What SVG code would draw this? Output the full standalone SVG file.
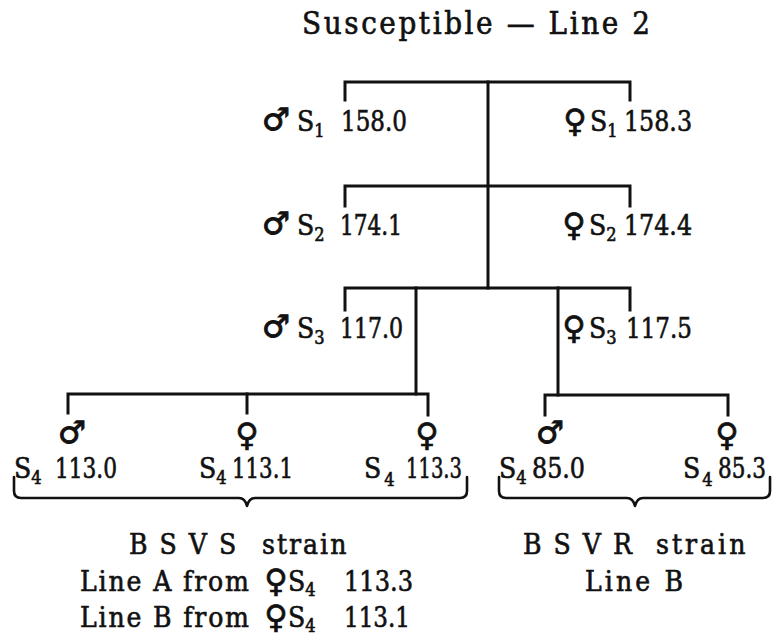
<svg xmlns="http://www.w3.org/2000/svg" width="773" height="642" viewBox="0 0 773 642">
  <style>
    .lb { font-family: "DejaVu Serif Condensed", "DejaVu Serif", "Liberation Serif", serif; font-stretch: condensed; font-size: 28px; fill: #111; stroke: #111; stroke-width: 0.6; }
    .ttl { font-family: "DejaVu Serif Condensed", "DejaVu Serif", "Liberation Serif", serif; font-stretch: condensed; font-size: 31px; fill: #111; stroke: #111; stroke-width: 0.6; }
    .sub { font-size: 18px; }
    .wide { letter-spacing: 12px; }
    .m { font-family: "DejaVu Sans", "Liberation Sans", sans-serif; font-size: 31px; fill: #111; stroke: #111; stroke-width: 1; }
    .f { font-family: "DejaVu Sans", "Liberation Sans", sans-serif; font-size: 32px; fill: #111; stroke: #111; stroke-width: 0.7; text-anchor: middle; }
    .ln { stroke: #111; stroke-width: 3; fill: none; stroke-linecap: square; stroke-linejoin: miter; }
    .br { stroke: #111; stroke-width: 2.6; fill: none; stroke-linecap: round; stroke-linejoin: round; }
  </style>

  <!-- pedigree connectors -->
  <g id="connectors">
    <!-- generation 1 -->
    <path class="ln" d="M345,100 V82 H630 V100"/>
    <!-- main stem down to generation 3 -->
    <path class="ln" d="M488,82 V288"/>
    <!-- generation 2 -->
    <path class="ln" d="M345,206 V186 H630 V206"/>
    <!-- generation 3 -->
    <path class="ln" d="M345,310 V288 H630 V310"/>
    <path class="ln" d="M416,288 V394"/>
    <path class="ln" d="M558,288 V395"/>
    <!-- generation 4, left family -->
    <path class="ln" d="M68,413 V394 H428 V415"/>
    <path class="ln" d="M247,394 V413"/>
    <!-- generation 4, right family -->
    <path class="ln" d="M545,415 V395 H728 V415"/>
    <!-- grouping braces -->
    <path class="br" d="M14,477 V491 Q14,498 21,498 H239 Q245,498 247,506 Q249,498 255,498 H460 Q467,498 467,491 V477"/>
    <path class="br" d="M499,477 V491 Q499,498 506,498 H627 Q633,498 635,506 Q637,498 643,498 H763 Q770,498 770,491 V477"/>
  </g>

  <g id="title">
    <text class="ttl" x="302" y="34" textLength="348" lengthAdjust="spacing">Susceptible — Line 2</text>
  </g>

  <g id="s1-male">
    <text class="m" x="262" y="130">♂</text>
    <text class="lb" x="297" y="131">S<tspan class="sub" dy="6">1</tspan></text>
    <text class="lb" x="341" y="131" textLength="66" lengthAdjust="spacingAndGlyphs">158.0</text>
  </g>
  <g id="s1-female">
    <text class="f" x="575" y="132">♀</text>
    <text class="lb" x="590" y="131">S<tspan class="sub" dy="6">1</tspan></text>
    <text class="lb" x="624" y="131" textLength="68" lengthAdjust="spacingAndGlyphs">158.3</text>
  </g>

  <g id="s2-male">
    <text class="m" x="262" y="234">♂</text>
    <text class="lb" x="297" y="235">S<tspan class="sub" dy="6">2</tspan></text>
    <text class="lb" x="340" y="235" textLength="62" lengthAdjust="spacingAndGlyphs">174.1</text>
  </g>
  <g id="s2-female">
    <text class="f" x="574" y="236">♀</text>
    <text class="lb" x="589" y="235">S<tspan class="sub" dy="6">2</tspan></text>
    <text class="lb" x="624" y="235" textLength="68" lengthAdjust="spacingAndGlyphs">174.4</text>
  </g>

  <g id="s3-male">
    <text class="m" x="262" y="337">♂</text>
    <text class="lb" x="297" y="338">S<tspan class="sub" dy="6">3</tspan></text>
    <text class="lb" x="340" y="338" textLength="63" lengthAdjust="spacingAndGlyphs">117.0</text>
  </g>
  <g id="s3-female">
    <text class="f" x="574" y="339">♀</text>
    <text class="lb" x="589" y="338">S<tspan class="sub" dy="6">3</tspan></text>
    <text class="lb" x="626" y="338" textLength="66" lengthAdjust="spacingAndGlyphs">117.5</text>
  </g>

  <g id="s4-male-113-0">
    <text class="m" x="58" y="443">♂</text>
    <text class="lb" x="14" y="478">S<tspan class="sub" dy="6">4</tspan></text>
    <text class="lb" x="55" y="478" textLength="62" lengthAdjust="spacingAndGlyphs">113.0</text>
  </g>
  <g id="s4-female-113-1">
    <text class="f" x="247" y="446">♀</text>
    <text class="lb" x="199" y="478">S<tspan class="sub" dy="6">4</tspan></text>
    <text class="lb" x="232" y="478" textLength="61" lengthAdjust="spacingAndGlyphs">113.1</text>
  </g>
  <g id="s4-female-113-3">
    <text class="f" x="427" y="446">♀</text>
    <text class="lb" x="364" y="478">S<tspan class="sub" dy="8" dx="3">4</tspan></text>
    <text class="lb" x="406" y="478" textLength="56" lengthAdjust="spacingAndGlyphs">113.3</text>
  </g>
  <g id="s4-male-85-0">
    <text class="m" x="536" y="443">♂</text>
    <text class="lb" x="499" y="478">S<tspan class="sub" dy="6">4</tspan></text>
    <text class="lb" x="532" y="478" textLength="53" lengthAdjust="spacingAndGlyphs">85.0</text>
  </g>
  <g id="s4-female-85-3">
    <text class="f" x="727" y="446">♀</text>
    <text class="lb" x="683" y="478">S<tspan class="sub" dy="8" dx="2">4</tspan></text>
    <text class="lb" x="718" y="478" textLength="48" lengthAdjust="spacingAndGlyphs">85.3</text>
  </g>

  <g id="bsvs-strain">
    <text class="lb" y="554"><tspan class="wide" x="129">BSVS</tspan><tspan x="262" letter-spacing="2">strain</tspan></text>
    <text class="lb" x="80" y="591" textLength="169" lengthAdjust="spacing">Line A from</text>
    <text class="f" x="276" y="592">♀</text>
    <text class="lb" x="288" y="591">S<tspan class="sub" dy="5">4</tspan></text>
    <text class="lb" x="344" y="591" textLength="69" lengthAdjust="spacingAndGlyphs">113.3</text>
    <text class="lb" x="80" y="627" textLength="169" lengthAdjust="spacing">Line B from</text>
    <text class="f" x="276" y="628">♀</text>
    <text class="lb" x="288" y="627">S<tspan class="sub" dy="5">4</tspan></text>
    <text class="lb" x="344" y="627" textLength="66" lengthAdjust="spacingAndGlyphs">113.1</text>
  </g>

  <g id="bsvr-strain">
    <text class="lb" y="554"><tspan class="wide" x="523">BSVR</tspan><tspan x="656" letter-spacing="3">strain</tspan></text>
    <text class="lb" x="585" y="591" textLength="98" lengthAdjust="spacing">Line B</text>
  </g>
</svg>
